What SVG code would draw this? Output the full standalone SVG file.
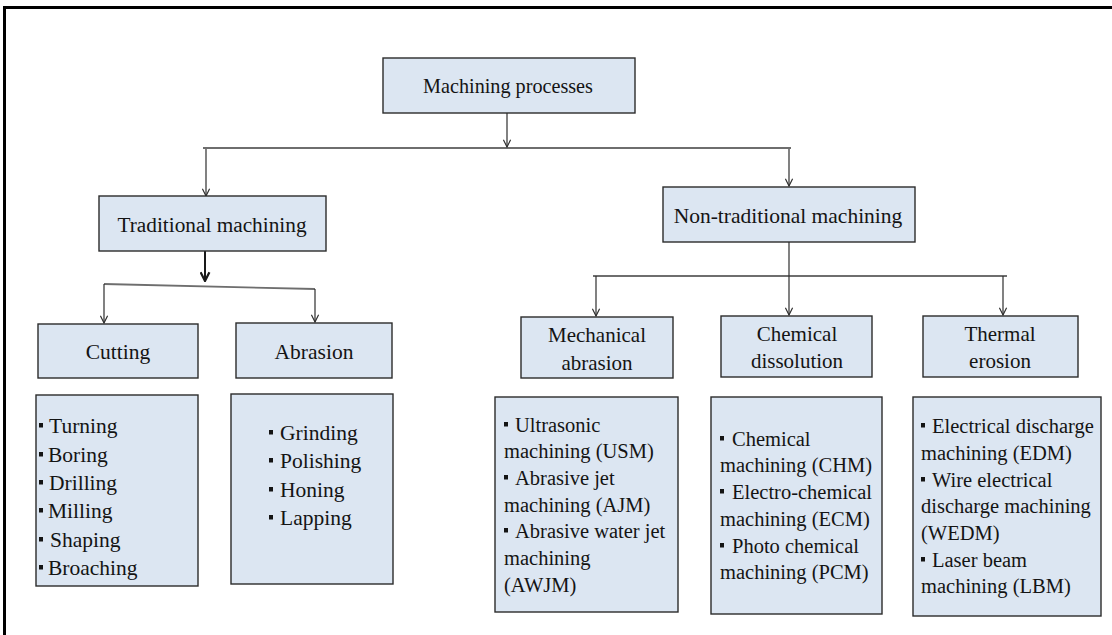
<svg xmlns="http://www.w3.org/2000/svg" width="1112" height="635" viewBox="0 0 1112 635">
  <defs>
    <marker id="arrow" viewBox="0 0 10 10" refX="9" refY="5" markerWidth="9" markerHeight="9" markerUnits="userSpaceOnUse" orient="auto">
      <path d="M1,1 L9,5 L1,9" fill="none" stroke="#2e2e2e" stroke-width="1.3"/>
    </marker>
    <marker id="arrowBold" viewBox="0 0 10 10" refX="9" refY="5" markerWidth="11" markerHeight="11" markerUnits="userSpaceOnUse" orient="auto">
      <path d="M1,1 L9,5 L1,9" fill="none" stroke="#1a1a1a" stroke-width="2"/>
    </marker>
  </defs>

  <!-- page frame: top and left edges only -->
  <path d="M3,7.5 H1112 M4.5,6 V635" fill="none" stroke="#000" stroke-width="3"/>

  <!-- connectors: grey bus bars with dark drop arrows -->
  <g id="connectors" fill="none">
    <g stroke="#6e6e6e" stroke-width="1.8">
      <path d="M203,148 H791"/>
      <path d="M104,284 L315,289"/>
      <path d="M593,276 H1007"/>
    </g>
    <g stroke="#2e2e2e" stroke-width="1.2" marker-end="url(#arrow)">
      <path d="M507,113 V147"/>
      <path d="M206,149 V196"/>
      <path d="M789,149 V186"/>
      <path d="M104,284 V323"/>
      <path d="M315,289 V322"/>
      <path d="M789,242 V315"/>
      <path d="M596,276 V316"/>
      <path d="M1003,276 V315"/>
    </g>
    <path d="M205,251 V281" stroke="#1a1a1a" stroke-width="2" marker-end="url(#arrowBold)"/>
  </g>

  <g id="nodes" fill="#dce6f2" stroke="#2b2b2b" stroke-width="1.4">
    <rect id="machining-processes-box" x="383" y="58" width="252" height="55"/>
    <rect id="traditional-box" x="99" y="196" width="227" height="55"/>
    <rect id="non-traditional-box" x="663" y="187" width="252" height="55"/>
    <rect id="cutting-box" x="38" y="324" width="160" height="54"/>
    <rect id="abrasion-box" x="236" y="323" width="156" height="55"/>
    <rect id="mechanical-abrasion-box" x="521" y="317" width="152" height="61"/>
    <rect id="chemical-dissolution-box" x="721" y="316" width="151" height="61"/>
    <rect id="thermal-erosion-box" x="923" y="316" width="155" height="61"/>
    <rect id="cutting-list-box" x="36" y="395" width="162" height="191"/>
    <rect id="abrasion-list-box" x="231" y="394" width="162" height="190"/>
    <rect id="mechanical-list-box" x="495" y="397" width="183" height="215"/>
    <rect id="chemical-list-box" x="711" y="397" width="171" height="217"/>
    <rect id="thermal-list-box" x="913" y="397" width="188" height="219"/>
  </g>

  <!-- square list bullets -->
  <g id="bullets" fill="#141414">
    <rect x="39" y="423" width="4" height="4.5"/>
    <rect x="39" y="452" width="4" height="4.5"/>
    <rect x="39" y="480" width="4" height="4.5"/>
    <rect x="39" y="508" width="4" height="4.5"/>
    <rect x="39" y="537" width="4" height="4.5"/>
    <rect x="39" y="565" width="4" height="4.5"/>
    <rect x="269" y="430" width="4" height="4.5"/>
    <rect x="269" y="458" width="4" height="4.5"/>
    <rect x="269" y="487" width="4" height="4.5"/>
    <rect x="269" y="515" width="4" height="4.5"/>
    <rect x="504" y="422" width="4" height="4.5"/>
    <rect x="504" y="475" width="4" height="4.5"/>
    <rect x="504" y="528" width="4" height="4.5"/>
    <rect x="720" y="436" width="4" height="4.5"/>
    <rect x="720" y="489" width="4" height="4.5"/>
    <rect x="720" y="543" width="4" height="4.5"/>
    <rect x="921" y="423" width="4" height="4.5"/>
    <rect x="921" y="477" width="4" height="4.5"/>
    <rect x="921" y="557" width="4" height="4.5"/>
  </g>

  <g id="labels" fill="#141414">
    <text x="508" y="93" text-anchor="middle" font-family="Liberation Serif" font-size="20.2">Machining processes</text>
    <text x="212" y="232" text-anchor="middle" font-family="Liberation Serif" font-size="21.3">Traditional machining</text>
    <text x="788" y="223" text-anchor="middle" font-family="Liberation Serif" font-size="21.5">Non-traditional machining</text>
    <text x="118" y="359" text-anchor="middle" font-family="Liberation Serif" font-size="21.5">Cutting</text>
    <text x="314" y="359" text-anchor="middle" font-family="Liberation Serif" font-size="21.5">Abrasion</text>
    <text x="597" y="342" text-anchor="middle" font-family="Liberation Serif" font-size="21">Mechanical</text>
    <text x="597" y="370" text-anchor="middle" font-family="Liberation Serif" font-size="21">abrasion</text>
    <text x="797" y="341" text-anchor="middle" font-family="Liberation Serif" font-size="21">Chemical</text>
    <text x="797" y="368" text-anchor="middle" font-family="Liberation Serif" font-size="21">dissolution</text>
    <text x="1000" y="341" text-anchor="middle" font-family="Liberation Serif" font-size="21">Thermal</text>
    <text x="1000" y="368" text-anchor="middle" font-family="Liberation Serif" font-size="21">erosion</text>

    <text font-family="Liberation Serif" font-size="21.5">
      <tspan x="49" y="433">Turning</tspan>
      <tspan x="48" y="462">Boring</tspan>
      <tspan x="49" y="490">Drilling</tspan>
      <tspan x="48" y="518">Milling</tspan>
      <tspan x="50" y="547">Shaping</tspan>
      <tspan x="48" y="575">Broaching</tspan>
    </text>

    <text font-family="Liberation Serif" font-size="21.5">
      <tspan x="280" y="440">Grinding</tspan>
      <tspan x="280" y="468">Polishing</tspan>
      <tspan x="280" y="497">Honing</tspan>
      <tspan x="280" y="525">Lapping</tspan>
    </text>

    <text font-family="Liberation Serif" font-size="20.5">
      <tspan x="515" y="432">Ultrasonic</tspan>
      <tspan x="504" y="458">machining (USM)</tspan>
      <tspan x="515" y="485">Abrasive jet</tspan>
      <tspan x="504" y="512">machining (AJM)</tspan>
      <tspan x="515" y="538">Abrasive water jet</tspan>
      <tspan x="504" y="565">machining</tspan>
      <tspan x="504" y="592">(AWJM)</tspan>
    </text>

    <text font-family="Liberation Serif" font-size="20.5">
      <tspan x="732" y="446">Chemical</tspan>
      <tspan x="720" y="472">machining (CHM)</tspan>
      <tspan x="732" y="499">Electro-chemical</tspan>
      <tspan x="720" y="526">machining (ECM)</tspan>
      <tspan x="732" y="553">Photo chemical</tspan>
      <tspan x="720" y="579">machining (PCM)</tspan>
    </text>

    <text font-family="Liberation Serif" font-size="20.5">
      <tspan x="932" y="433">Electrical discharge</tspan>
      <tspan x="921" y="460">machining (EDM)</tspan>
      <tspan x="932" y="487">Wire electrical</tspan>
      <tspan x="921" y="513">discharge machining</tspan>
      <tspan x="921" y="540">(WEDM)</tspan>
      <tspan x="932" y="567">Laser beam</tspan>
      <tspan x="921" y="593">machining (LBM)</tspan>
    </text>
  </g>
</svg>
